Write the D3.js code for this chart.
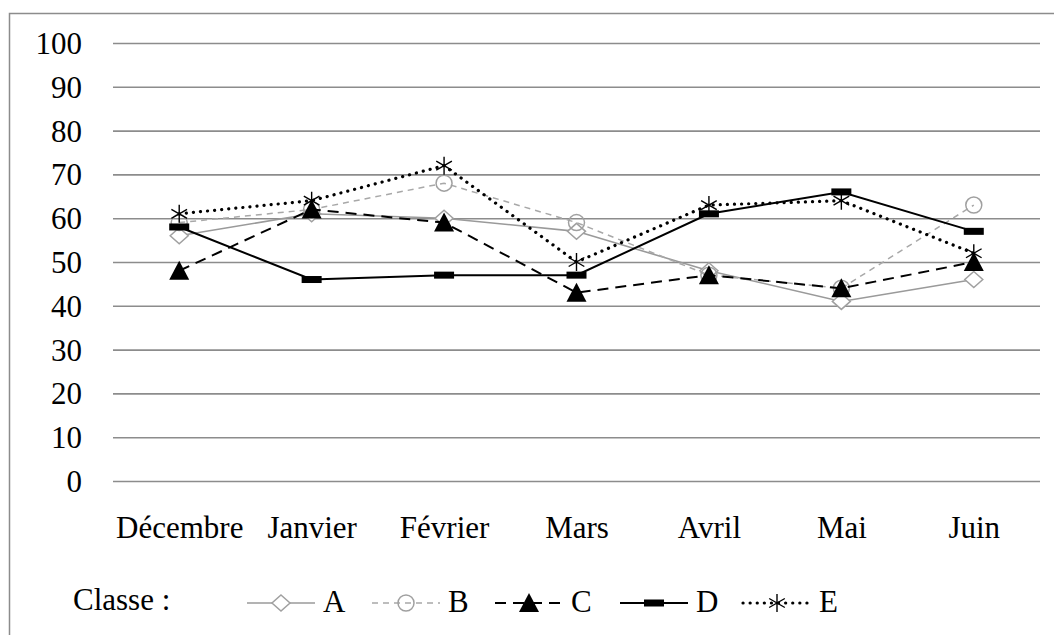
<!DOCTYPE html>
<html>
<head>
<meta charset="utf-8">
<script src="https://cdn.jsdelivr.net/npm/d3@7"></script>
</head>
<body style="margin:0">
<div id="chart"></div>
<script>
const months = ["Décembre", "Janvier", "Février", "Mars", "Avril", "Mai", "Juin"];
const yTicks = [0, 10, 20, 30, 40, 50, 60, 70, 80, 90, 100];
const classA = [56, 61, 60, 57, 48, 41, 46];
const classB = [59, 62, 68, 59, 47, 44, 63];
const classC = [48, 62, 59, 43, 47, 44, 50];
const classD = [58, 46, 47, 47, 61, 66, 57];
const classE = [61, 64, 72, 50, 63, 64, 52];
const seriesNames = ["A", "B", "C", "D", "E"];

const W = 1054, H = 635;
const fs = 31;

// series styles
const styles = {
  A: { values: classA, stroke: "#9a9a9a", width: 1.6, dash: null, cap: "butt", marker: "diamond" },
  B: { values: classB, stroke: "#a8a8a8", width: 1.5, dash: "6,5", cap: "butt", marker: "circle" },
  C: { values: classC, stroke: "#000", width: 2, dash: "11,7", cap: "butt", marker: "triangle" },
  D: { values: classD, stroke: "#000", width: 2, dash: null, cap: "butt", marker: "bar" },
  E: { values: classE, stroke: "#000", width: 3.2, dash: "0.1,7", cap: "round", marker: "star" }
};

const x = d3.scalePoint()
  .domain(months)
  .range([113, 1040])
  .padding(0.5);

const y = d3.scaleLinear()
  .domain([0, 100])
  .range([481, 43]);

const svg = d3.select("#chart")
  .append("svg")
  .attr("width", W)
  .attr("height", H);

// frame (only top and left edges are inside the picture)
svg.append("rect")
  .attr("x", 9.5)
  .attr("y", 13.5)
  .attr("width", W + 20)
  .attr("height", H + 20)
  .attr("fill", "none")
  .attr("stroke", "#8c8c8c")
  .attr("stroke-width", 1.5);

// gridlines + y labels
const yAxis = d3.axisLeft(y)
  .tickValues(yTicks)
  .tickSize(-(1040 - 113))
  .tickPadding(31);

svg.append("g")
  .attr("transform", "translate(113,0)")
  .call(yAxis)
  .attr("font-family", "Liberation Serif")
  .attr("font-size", fs)
  .call(g => g.select(".domain").remove())
  .call(g => g.selectAll("line").attr("stroke", "#8c8c8c").attr("stroke-width", 1.6))
  .call(g => g.selectAll("text")
    .attr("fill", "#000")
    .attr("dy", "0.34em"));

// x labels
const xAxis = d3.axisBottom(x).tickSize(0).tickPadding(0);
svg.append("g")
  .attr("transform", "translate(0,481)")
  .call(xAxis)
  .attr("font-family", "Liberation Serif")
  .attr("font-size", fs)
  .call(g => g.select(".domain").remove())
  .call(g => g.selectAll("text")
    .attr("fill", "#000")
    .attr("dy", null)
    .attr("y", 57));

function drawMarker(g, type, cx, cy) {
  if (type === "diamond") {
    g.append("path")
      .attr("d", `M${cx},${cy - 8} L${cx + 9},${cy} L${cx},${cy + 8} L${cx - 9},${cy} Z`)
      .attr("fill", "#fff").attr("stroke", "#a0a0a0").attr("stroke-width", 1.5);
  } else if (type === "circle") {
    g.append("circle")
      .attr("cx", cx).attr("cy", cy).attr("r", 8)
      .attr("fill", "none").attr("stroke", "#a0a0a0").attr("stroke-width", 1.5);
  } else if (type === "triangle") {
    g.append("path")
      .attr("d", `M${cx},${cy - 10} L${cx + 10},${cy + 9} L${cx - 10},${cy + 9} Z`)
      .attr("fill", "#000");
  } else if (type === "bar") {
    g.append("rect")
      .attr("x", cx - 10).attr("y", cy - 3.5).attr("width", 20).attr("height", 7)
      .attr("fill", "#000");
  } else if (type === "star") {
    const r = 9;
    g.append("path")
      .attr("d", `M${cx},${cy - r} L${cx},${cy + r} M${cx - r * 0.87},${cy - r * 0.5} L${cx + r * 0.87},${cy + r * 0.5} M${cx - r * 0.87},${cy + r * 0.5} L${cx + r * 0.87},${cy - r * 0.5}`)
      .attr("stroke", "#000").attr("stroke-width", 1.4).attr("fill", "none");
  }
}

const line = d3.line()
  .x((d, i) => x(months[i]))
  .y(d => y(d));

seriesNames.forEach(name => {
  const s = styles[name];
  const g = svg.append("g");
  g.append("path")
    .datum(s.values)
    .attr("d", line)
    .attr("fill", "none")
    .attr("stroke", s.stroke)
    .attr("stroke-width", s.width)
    .attr("stroke-dasharray", s.dash)
    .attr("stroke-linecap", s.cap);
  s.values.forEach((v, i) => drawMarker(g, s.marker, x(months[i]), y(v)));
});

// legend
const legY = 603;
const legend = svg.append("g")
  .attr("font-family", "Liberation Serif")
  .attr("font-size", fs);

legend.append("text")
  .attr("x", 73)
  .attr("y", legY + 7)
  .text("Classe :");

const legStart = [247, 372, 495, 620, 743];
seriesNames.forEach((name, i) => {
  const s = styles[name];
  const g = legend.append("g");
  const x0 = legStart[i], x1 = x0 + 68;
  g.append("line")
    .attr("x1", x0).attr("x2", x1).attr("y1", legY).attr("y2", legY)
    .attr("stroke", s.stroke)
    .attr("stroke-width", s.width)
    .attr("stroke-dasharray", s.dash)
    .attr("stroke-linecap", s.cap);
  drawMarker(g, s.marker, (x0 + x1) / 2, legY);
  g.append("text")
    .attr("x", x1 + 8)
    .attr("y", legY + 9)
    .text(name);
});
</script>
</body>
</html>
